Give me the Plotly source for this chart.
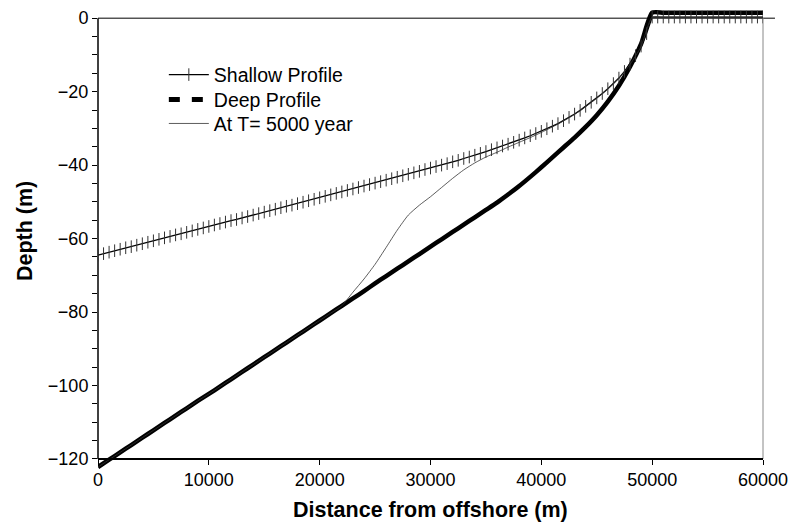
import plotly.graph_objects as go

# ---------------- data ----------------
# Shallow profile: every 500 m (km -> m below)
shallow_x_km = [i * 0.5 for i in range(121)]
shallow_depth = [
    -64.5, -64.1, -63.7, -63.3, -62.9, -62.5, -62.2, -61.8, -61.4, -61.0,
    -60.6, -60.2, -59.8, -59.4, -59.0, -58.7, -58.3, -57.9, -57.5, -57.1,
    -56.7, -56.3, -55.9, -55.5, -55.1, -54.8, -54.4, -54.0, -53.6, -53.2,
    -52.8, -52.4, -52.0, -51.6, -51.2, -50.9, -50.5, -50.1, -49.7, -49.3,
    -48.9, -48.5, -48.1, -47.7, -47.3, -46.9, -46.5, -46.1, -45.7, -45.3,
    -44.9, -44.5, -44.1, -43.7, -43.3, -42.9, -42.5, -42.1, -41.7, -41.2,
    -40.8, -40.4, -40.0, -39.6, -39.1, -38.7, -38.2, -37.8, -37.3, -36.8,
    -36.3, -35.8, -35.3, -34.8, -34.3, -33.8, -33.2, -32.6, -32.0, -31.4,
    -30.8, -30.1, -29.4, -28.7, -27.9, -27.0, -26.1, -25.1, -24.0, -22.9,
    -21.7, -20.5, -19.2, -17.8, -16.3, -14.5, -12.5, -10.2, -7.6, -4.2,
    0.3, 0.3, 0.3, 0.3, 0.3, 0.3, 0.3, 0.3, 0.3, 0.3,
    0.3, 0.3, 0.3, 0.3, 0.3, 0.3, 0.3, 0.3, 0.3, 0.3,
    0.3,
]

# Deep profile and T=5000 year profile: every 1000 m
deep_x_km = list(range(61))
deep_depth = [
    -122.2, -120.2, -118.2, -116.2, -114.2, -112.2, -110.2, -108.2, -106.2, -104.2,
    -102.3, -100.3, -98.3, -96.3, -94.3, -92.3, -90.3, -88.3, -86.3, -84.3,
    -82.3, -80.3, -78.3, -76.3, -74.3, -72.2, -70.2, -68.2, -66.2, -64.2,
    -62.2, -60.2, -58.2, -56.2, -54.2, -52.2, -50.2, -48.0, -45.7, -43.2,
    -40.6, -37.9, -35.2, -32.5, -29.6, -26.4, -22.7, -18.4, -13.2, -7.0,
    1.5, 1.5, 1.5, 1.5, 1.5, 1.5, 1.5, 1.5, 1.5, 1.5,
    1.5,
]

t5000_x_km = list(range(61))
t5000_depth = [
    -122.2, -120.2, -118.2, -116.2, -114.2, -112.2, -110.2, -108.2, -106.2, -104.2,
    -102.3, -100.3, -98.3, -96.3, -94.3, -92.3, -90.3, -88.3, -86.3, -84.3,
    -82.3, -80.3, -78.3, -74.6, -71.0, -67.0, -62.4, -57.7, -53.6, -50.9,
    -48.6, -46.1, -43.6, -41.3, -39.4, -37.8, -36.5, -35.1, -33.8, -32.5,
    -31.1, -29.6, -28.0, -26.2, -24.1, -21.8, -19.3, -16.4, -12.6, -7.7,
    0.3, 0.3, 0.3, 0.3, 0.3, 0.3, 0.3, 0.3, 0.3, 0.3,
    0.3,
]

x_tick_vals = [0, 10000, 20000, 30000, 40000, 50000, 60000]
y_tick_vals = [0, -20, -40, -60, -80, -100, -120]

x_title = "Distance from offshore (m)"
y_title = "Depth (m)"
names = ["Shallow Profile", "Deep Profile", "At T= 5000 year"]

# ---------------- figure ----------------
FONT = "Liberation Sans, Arial, sans-serif"
Y_LOW, Y_HIGH = -123, 2.5
LEG_FONT = dict(size=19.5, family=FONT)

def leg(yc):
    return dict(x=0.099, y=yc, xanchor="left", yanchor="middle",
                bgcolor="rgba(0,0,0,0)", font=LEG_FONT, itemwidth=40)

fig = go.Figure()

# deep profile (plotted solid & thick; legend sample dashed)
fig.add_trace(go.Scatter(
    x=[v * 1000 for v in deep_x_km], y=deep_depth, mode="lines",
    line=dict(color="black", width=4.5, shape="spline", smoothing=0.6),
    showlegend=False, hoverinfo="skip",
))
fig.add_trace(go.Scatter(
    x=[v * 1000 for v in shallow_x_km], y=shallow_depth, mode="lines+markers",
    name=names[0], legend="legend",
    line=dict(color="black", width=1.3),
    marker=dict(symbol="line-ns-open", size=9, color="#333333",
                line=dict(color="#333333", width=1)),
))
fig.add_trace(go.Scatter(
    x=[None], y=[None], mode="lines", name=names[1], legend="legend2",
    line=dict(color="black", width=5, dash="11px,12px"),
))
fig.add_trace(go.Scatter(
    x=[v * 1000 for v in t5000_x_km], y=t5000_depth, mode="lines",
    name=names[2], legend="legend3",
    line=dict(color="#333333", width=0.8, shape="spline", smoothing=0.6),
))

fig.update_layout(
    width=790, height=524,
    margin=dict(l=98, r=27, t=9, b=54, autoexpand=False),
    paper_bgcolor="white", plot_bgcolor="white",
    font=dict(family=FONT, size=18, color="black"),
    showlegend=True,
    legend=leg(0.857),
    legend2=leg(0.803),
    legend3=leg(0.751),
    xaxis=dict(
        range=[0, 60000], tickvals=x_tick_vals,
        ticktext=[str(v) for v in x_tick_vals],
        ticks="outside", ticklen=5, tickcolor="black",
        showline=True, linecolor="black", linewidth=1.5,
        showgrid=False, zeroline=False, automargin=False,
        anchor="free", position=(-120 - Y_LOW) / (Y_HIGH - Y_LOW),
        tickfont=dict(size=18, family=FONT),
    ),
    yaxis=dict(
        range=[Y_LOW, Y_HIGH], tickvals=y_tick_vals,
        ticktext=[str(v).replace("-", "\u2212") for v in y_tick_vals],
        ticks="outside", ticklen=5, tickcolor="black",
        minor=dict(dtick=5, tick0=0, ticks="outside", ticklen=5, tickcolor="black"),
        showline=False, showgrid=False, zeroline=False, automargin=False,
        tickfont=dict(size=18, family=FONT),
    ),
    shapes=[
        dict(type="line", xref="paper", yref="y", x0=0, x1=0, y0=-120, y1=0,
             line=dict(color="black", width=1.5), layer="below"),
        dict(type="line", xref="paper", yref="y", x0=0, x1=1.018, y0=0, y1=0,
             line=dict(color="black", width=1), layer="below"),
        dict(type="line", xref="paper", yref="y", x0=1, x1=1, y0=-120, y1=0,
             line=dict(color="#888888", width=1), layer="below"),
    ],
    annotations=[
        dict(text="<b>" + x_title + "</b>", xref="paper", yref="paper",
             x=0.5, y=-0.086, xanchor="center", yanchor="middle", borderpad=0,
             showarrow=False, font=dict(size=21.5, family=FONT)),
        dict(text="<b>" + y_title + "</b>", xref="paper", yref="paper",
             x=-0.11, y=0.518, xanchor="center", yanchor="middle", textangle=-90,
             showarrow=False, font=dict(size=21.5, family=FONT)),
    ],
)

fig.write_html("out.html")
